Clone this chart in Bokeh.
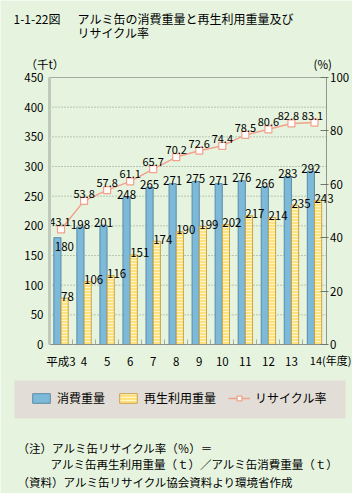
from bokeh.plotting import figure
from bokeh.models import (Range1d, LinearAxis, FixedTicker, ColumnDataSource,
                          Label, Legend, LegendItem, BoxAnnotation)
from bokeh.transform import dodge
from bokeh.core.properties import value
from bokeh.embed import file_html
from bokeh.resources import INLINE

# ---------------- data ----------------
years = ["平成3", "4", "5", "6", "7", "8", "9", "10", "11", "12", "13", "14"]
consumption = [180, 198, 201, 248, 265, 271, 275, 271, 276, 266, 283, 292]
recycled = [78, 106, 116, 151, 174, 190, 199, 202, 217, 214, 235, 243]
rate = [43.1, 53.8, 57.8, 61.1, 65.7, 70.2, 72.6, 74.4, 78.5, 80.6, 82.8, 83.1]
left_ticks = [0, 50, 100, 150, 200, 250, 300, 350, 400, 450]
right_ticks = [0, 20, 40, 60, 80, 100]

# ---------------- style / layout ----------------
FONT = "Noto Sans CJK JP"
BG = "#E6F4DF"
BLUE = "#7DB9D9"
BLUE_EDGE = "#5A8BA6"
YELLOW = "#FFE07A"
YELLOW_EDGE = "#C8A44A"
LINE = "#F3A08A"

W, H = 352, 493           # figure size
FL, FR = 49, 325.5        # plot area, px
FT, FB = 77, 344
n = len(years)
g = (FR - FL) / n
ymax, rmax = left_ticks[-1], right_ticks[-1]
sy = (FB - FT) / ymax
sr = (FB - FT) / rmax

x_range = Range1d(-0.5 - FL / g, n - 0.5 + (W - FR) / g)
y_range = Range1d(-(H - FB) / sy, ymax + FT / sy)
r_range = Range1d(-(H - FB) / sr, rmax + FT / sr)

# label nudges (screen px)
c_dx = [7] + [0] * (n - 1)
c_dy = [9] + [-3] * (n - 1)
rate_dx = [-1] + [0] * (n - 3) + [-3, -2]

idx = list(range(n))
src = ColumnDataSource(dict(
    idx=idx, consumption=consumption, recycled=recycled, rate=rate,
    c_lbl=[str(v) for v in consumption], r_lbl=[str(v) for v in recycled],
    rate_lbl=[f"{v:.1f}" for v in rate], c_dx=c_dx, c_dy=c_dy, rate_dx=rate_dx,
))
grid_src = ColumnDataSource(dict(y=left_ticks[1:], x0=[-0.5] * (len(left_ticks) - 1),
                                 x1=[n - 0.5] * (len(left_ticks) - 1)))

p = figure(width=W, height=H, x_range=x_range, y_range=y_range,
           output_backend="svg", toolbar_location=None,
           min_border=0, min_border_left=0, min_border_right=0,
           min_border_top=0, min_border_bottom=0,
           background_fill_color=BG, border_fill_color=BG, outline_line_color=None,
           x_axis_type=None, y_axis_type=None)
p.extra_y_ranges = {"rate": r_range}
p.xgrid.visible = False
p.ygrid.visible = False


def style_labels(ax):
    ax.major_label_text_font = FONT
    ax.major_label_text_font_size = "11.5px"
    ax.major_label_text_color = "black"


# left axis
yax = LinearAxis(ticker=FixedTicker(ticks=left_ticks), fixed_location=-0.5, bounds=(0, ymax))
yax.axis_line_color = "#BFCABA"
yax.axis_line_width = 3
yax.major_tick_line_color = None
yax.major_tick_in = 0
yax.major_tick_out = 0
yax.minor_tick_line_color = None
yax.minor_tick_out = 0
yax.major_label_standoff = 6
style_labels(yax)
p.add_layout(yax, "left")

# right axis
rax = LinearAxis(y_range_name="rate", ticker=FixedTicker(ticks=right_ticks),
                 fixed_location=n - 0.5, bounds=(0, rmax))
rax.axis_line_color = "#8E968E"
rax.major_tick_in = 6
rax.major_tick_out = 2
rax.major_tick_line_color = "#6E766E"
rax.minor_tick_line_color = None
rax.minor_tick_out = 0
rax.major_label_standoff = 2
style_labels(rax)
p.add_layout(rax, "right")

# bottom axis
xax = LinearAxis(ticker=FixedTicker(ticks=idx, minor_ticks=[i + 0.5 for i in idx[:-1]]),
                 fixed_location=0, bounds=(-0.5, n - 0.5))
xax.axis_line_color = "#8A8F8A"
xax.major_tick_line_color = None
xax.major_tick_in = 0
xax.major_tick_out = 0
xax.minor_tick_line_color = "#A4ACA4"
xax.minor_tick_in = 5
xax.minor_tick_out = 0
xax.major_label_standoff = 8
xax.major_label_overrides = {i: (y if i < n - 1 else "") for i, y in enumerate(years)}
style_labels(xax)
p.add_layout(xax, "below")

# top border line
tax = LinearAxis(ticker=FixedTicker(ticks=[]), fixed_location=ymax, bounds=(-0.5, n - 0.5))
tax.axis_line_color = "#A3ABA3"
tax.major_tick_line_color = None
tax.minor_tick_line_color = None
tax.major_label_text_font_size = "0px"
p.add_layout(tax, "above")

# dotted grid
p.segment(x0="x0", x1="x1", y0="y", y1="y", source=grid_src,
          line_color="#8A9A88", line_dash="1 2", line_width=1)

# bars
blue = p.vbar(x=dodge("idx", -0.157), top="consumption", width=0.31,
              source=src, fill_color=BLUE, line_color=BLUE_EDGE, line_width=1)
yellow = p.vbar(x=dodge("idx", 0.157), top="recycled", width=0.31,
                source=src, fill_color=YELLOW, line_color=YELLOW_EDGE, line_width=1,
                hatch_pattern="horizontal_line", hatch_color="#FFF6CC",
                hatch_scale=3, hatch_weight=1.2)

# recycle-rate line
ln = p.line(x="idx", y="rate", y_range_name="rate", source=src, line_color=LINE, line_width=1.5)
mk = p.scatter(x="idx", y="rate", y_range_name="rate", source=src, marker="square", size=7,
               fill_color="white", line_color=LINE, line_width=1.2)

# value labels
p.text(x=dodge("idx", -0.157), y="consumption", text="c_lbl", source=src,
       x_offset="c_dx", y_offset="c_dy", text_align="center", text_baseline="alphabetic",
       text_font=value(FONT), text_font_size="11.5px", text_color="black")
p.text(x=dodge("idx", 0.0), y="recycled", text="r_lbl", source=src,
       y_offset=-2, text_align="left", text_baseline="alphabetic",
       text_font=value(FONT), text_font_size="11.5px", text_color="black")
p.text(x="idx", y="rate", y_range_name="rate", text="rate_lbl", source=src,
       x_offset="rate_dx", y_offset=-7, text_align="center", text_baseline="alphabetic",
       text_font=value(FONT), text_font_size="11px", text_color="black")


def lab(x, y, text, size="12px", align="left"):
    # x, y in picture pixels from top-left -> screen units (frame == whole figure)
    p.add_layout(Label(x=x, y=H - y, x_units="screen", y_units="screen", text=text,
                       text_font=FONT, text_font_size=size, text_baseline="middle",
                       text_align=align, text_color="black"))


lab(13, 18, "1-1-22図")
lab(77, 18, "アルミ缶の消費重量と再生利用重量及び")
lab(77, 31.5, "リサイクル率")
lab(25, 63.5, "（千t）", size="11.5px")
lab(313, 63.5, "(%)", size="11.5px")
lab(351, 359, "14(年度)", size="11px", align="right")
lab(17, 447.5, "（注）アルミ缶リサイクル率（％）＝", size="11.5px")
lab(50, 463.5, "アルミ缶再生利用重量（ｔ）／アルミ缶消費重量（ｔ）", size="11.5px")
lab(17, 481.5, "（資料）アルミ缶リサイクル協会資料より環境省作成", size="11.5px")

# legend background
p.add_layout(BoxAnnotation(left=14, right=345, top=H - 380, bottom=H - 418,
                           left_units="screen", right_units="screen",
                           top_units="screen", bottom_units="screen",
                           fill_color="#E2DDD6", fill_alpha=1, line_color=None, level="underlay"))

legend = Legend(items=[LegendItem(label="消費重量", renderers=[blue]),
                       LegendItem(label="再生利用重量", renderers=[yellow]),
                       LegendItem(label="リサイクル率", renderers=[ln, mk])],
                orientation="horizontal", location=(30, H - 406),
                padding=0, margin=0, spacing=12, label_standoff=5,
                glyph_width=22, glyph_height=12, label_height=12,
                label_text_font=FONT, label_text_font_size="12px",
                label_text_color="black", background_fill_alpha=0, border_line_color=None)
p.add_layout(legend)

open("out.html", "w").write(file_html(p, INLINE))
